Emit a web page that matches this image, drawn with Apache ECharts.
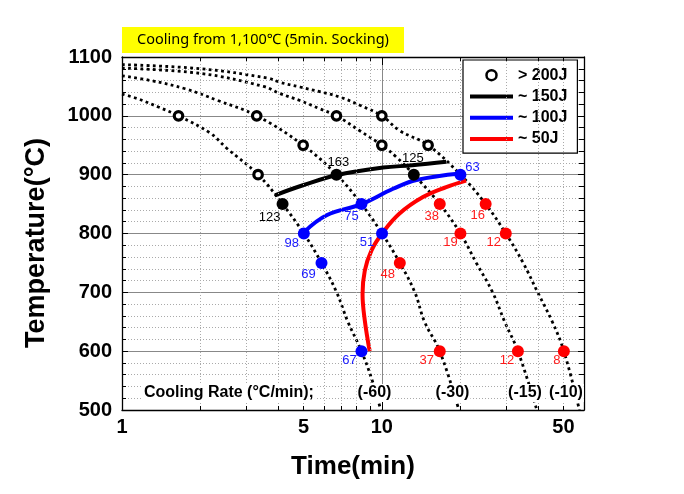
<!DOCTYPE html>
<html><head><meta charset="utf-8">
<script src="https://cdn.jsdelivr.net/npm/echarts@6/dist/echarts.min.js"></script>
<style>html,body{margin:0;padding:0;background:#fff}#c{width:684px;height:494px}</style>
</head><body><div id="c"></div>
<script>
// Cooling-rate curves (time min, temperature °C)
const curveM60 = [[1,1037],[1.15,1029],[1.38,1015],[1.65,1000],[2.18,971],[2.53,945],[3.34,900],[4.15,850],[5.01,800],[5.86,750],[6.7,700],[7.4,650],[8.35,600],[9.25,546],[9.9,500]];
const curveM30 = [[1,1068],[1.29,1060],[1.75,1046],[2.34,1026],[3.30,1000],[4.98,950],[6.69,900],[8.35,850],[10.02,800],[11.73,750],[13.4,700],[14.6,650],[16.71,600],[19.8,500]];
const curveM15 = [[1,1081],[2.01,1072],[3.5,1050],[4.05,1038],[4.84,1026],[5.77,1012],[6.69,1000],[8.2,975],[10,950],[11.37,930],[13.28,900],[16.71,850],[20.07,800],[23.1,750],[26.7,700],[29.7,650],[33.4,600],[39.5,500]];
const curveM10 = [[1,1087],[2.01,1080],[3.64,1064],[4.05,1057],[4.84,1049],[5.77,1041],[6.89,1032],[8.23,1018],[10,1000],[11.7,975],[15.07,950],[20.07,900],[25.1,850],[30,800],[35,750],[39.8,700],[45.3,650],[50.2,600],[57.6,500]];
const rateLabels = ['(-60)','(-30)','(-15)','(-10)'];

// Energy contour lines
const line150 = [[3.88,865],[4.97,882],[6.69,899],[10.1,912],[13.1,916],[17.7,922]];
const line100 = [[5.01,802],[6.13,831],[8.35,850],[11.05,876],[13.6,891],[20.07,902]];
const line50  = [[8.98,600],[8.6,652],[8.43,697],[8.6,737],[9.12,771],[10.1,802],[11.7,834],[14.4,862],[17.7,879],[21.1,890]];

// Measured points
const pts200 = [[1.65,1000],[3.30,1000],[3.34,900],[4.98,950],[6.69,1000],[10,1000],[10,950],[15.07,950]];
const pts150 = [[4.15,850],[6.69,900],[13.28,900]];
const lab150 = ['123','163','125'];
const pts100 = [[20.07,900],[8.35,850],[5.01,800],[10.02,800],[5.86,750],[8.35,600]];
const lab100 = ['63','75','98','51','69','67'];
const pts50  = [[16.71,850],[25.1,850],[20.07,800],[30,800],[11.73,750],[16.71,600],[33.4,600],[50.2,600]];
const lab50  = ['38','16','19','12','48','37','12','8'];

// Axis ticks
const yTicks = [500,600,700,800,900,1000,1100];
const xMinor = [2,3,4,5,6,7,8,9,20,30,40,50];
const xExtraLabels = {5:'5', 50:'50'};

// label offsets (style, not data)
const off150 = [[-13,13],[2,-12],[-1,-16]];
const off100 = [[12,-7],[-10,12],[-12,10],[-15,9],[-13,12],[-12,9]];
const off50  = [[-8,12],[-8,11],[-10,9],[-12,9],[-12,12],[-13,9],[-11,9],[-7,9]];

const FONT = 'Arial, "Liberation Sans", sans-serif';
const chart = echarts.init(document.getElementById('c'));

function dotsData(pts, labs, offs){
  return pts.map((p,i)=>({value:[p[0],p[1],labs[i]], label:{offset:offs[i]}}));
}
function curve(name, data){
  return {name, type:'line', data, smooth:0.4, symbol:'none', z:2, silent:true,
    lineStyle:{color:'#000', width:2.8, type:[2.8,3.4], cap:'butt'}};
}
const tickLen = 6.8;
const gridLines = xMinor.map(v => ({
  xAxis: v,
  label: xExtraLabels[v] ? {show:true, position:'start', formatter:xExtraLabels[v], distance:7,
    fontFamily:FONT, fontWeight:'bold', fontSize:20, color:'#000'} : {show:false}
}));
const tickLines = [];
xMinor.forEach(v => {
  tickLines.push([{coord:[v,yTicks[0]]},{coord:[v,yTicks[0]+tickLen]}]);
  tickLines.push([{coord:[v,yTicks[yTicks.length-1]]},{coord:[v,yTicks[yTicks.length-1]-tickLen]}]);
});

const c1 = curve('c60', curveM60);
c1.markLine = {silent:true, symbol:'none', animation:false,
  lineStyle:{color:'#aaa', type:[1,2], width:1},
  data: gridLines};
const c2 = curve('c30', curveM30);
c2.markLine = {silent:true, symbol:'none', animation:false,
  lineStyle:{color:'#000', type:'solid', width:1}, label:{show:false},
  data: tickLines};

// legend icon: thick bar centred in a 43x10 box
const barIcon = 'path://M0,3 H43 V7 H0 Z M0,0 L0.01,0 L0,0.01 Z M0,10 L0.01,10 L0,9.99 Z';

const labelBase = {show:true, position:'inside', formatter:p=>p.value[2], fontFamily:FONT, fontSize:13, textBorderWidth:0, opacity:1};

const option = {
  animation:false,
  grid:{left:122, right:100, top:57, bottom:84, containLabel:false},
  legend:{
    data:[
      {name:'> 200J', icon:'circle', itemStyle:{color:'#fff', borderColor:'#000', borderWidth:2.5, opacity:1}},
      {name:'~ 150J', icon:barIcon, itemStyle:{color:'#000', borderWidth:0}},
      {name:'~ 100J', icon:barIcon, itemStyle:{color:'#0000ff', borderWidth:0}},
      {name:'~ 50J', icon:barIcon, itemStyle:{color:'#ff0000', borderWidth:0}}
    ],
    orient:'vertical', left:463, top:60, padding:[7,10,6,7],
    itemWidth:43, itemHeight:10, itemGap:5, selectedMode:false,
    backgroundColor:'#fff', borderColor:'#000', borderWidth:1.2, borderRadius:0,
    textStyle:{fontFamily:FONT, fontWeight:'bold', fontSize:16, color:'#000', lineHeight:16.3}
  },
  xAxis:[{
    type:'log', logBase:10, min:1, max:60,
    name:'Time(min)', nameLocation:'middle', nameGap:44,
    nameTextStyle:{fontFamily:FONT, fontWeight:'bold', fontSize:26, color:'#000'},
    axisLine:{show:true, lineStyle:{color:'#000', width:1.3}},
    axisTick:{show:true, inside:true, length:8, lineStyle:{color:'#000'}},
    axisLabel:{fontFamily:FONT, fontWeight:'bold', fontSize:20, color:'#000', margin:7,
      showMaxLabel:false, formatter:v => (v===1||v===10) ? String(v) : ''},
    splitLine:{show:true, lineStyle:{color:'#888', width:1}},
    minorTick:{show:false}
  },{
    type:'log', logBase:10, min:1, max:60, position:'top',
    axisLine:{show:true, lineStyle:{color:'#000', width:1.3}},
    axisTick:{show:true, inside:true, length:8, lineStyle:{color:'#000'}},
    axisLabel:{show:false}, splitLine:{show:false}
  }],
  yAxis:[{
    type:'value', min:500, max:1100, interval:100,
    axisLine:{show:true, lineStyle:{color:'#000', width:1.3}},
    axisTick:{show:true, inside:true, length:6, lineStyle:{color:'#000'}},
    minorTick:{show:true, splitNumber:5, length:4, lineStyle:{color:'#000'}},
    axisLabel:{fontFamily:FONT, fontWeight:'bold', fontSize:20, color:'#000', margin:10,
      formatter:v => String(v)},
    splitLine:{show:true, lineStyle:{color:'#888', width:1}},
    minorSplitLine:{show:true, lineStyle:{color:'#aaa', type:[1,2], width:1}}
  },{
    type:'value', min:500, max:1100, interval:100, position:'right',
    axisLine:{show:true, lineStyle:{color:'#000', width:1.3}},
    axisTick:{show:true, inside:true, length:6, lineStyle:{color:'#000'}},
    minorTick:{show:true, splitNumber:5, length:5, lineStyle:{color:'#000'}},
    axisLabel:{show:false}, splitLine:{show:false}
  }],
  series:[
    c1, c2, curve('c15', curveM15), curve('c10', curveM10),
    {name:'~ 150J', type:'line', data:line150, smooth:0.4, symbol:'none', z:3,
      lineStyle:{color:'#000', width:4}, itemStyle:{color:'#000'}},
    {name:'~ 100J', type:'line', data:line100, smooth:0.4, symbol:'none', z:3,
      lineStyle:{color:'#0000ff', width:4}, itemStyle:{color:'#0000ff'}},
    {name:'~ 50J', type:'line', data:line50, smooth:0.4, symbol:'none', z:3,
      lineStyle:{color:'#ff0000', width:4}, itemStyle:{color:'#ff0000'}},
    {name:'> 200J', type:'scatter', data:pts200, symbol:'circle', symbolSize:8.5, z:5,
      itemStyle:{color:'#fff', borderColor:'#000', borderWidth:3.2, opacity:1}},
    {name:'p150', type:'scatter', data:dotsData(pts150, lab150, off150), symbolSize:12, z:5,
      itemStyle:{color:'#000', opacity:1},
      label:Object.assign({}, labelBase, {color:'#000'})},
    {name:'p100', type:'scatter', data:dotsData(pts100, lab100, off100), symbolSize:12, z:5,
      itemStyle:{color:'#0000ff', opacity:1},
      label:Object.assign({}, labelBase, {color:'#1a1aff'})},
    {name:'p50', type:'scatter', data:dotsData(pts50, lab50, off50), symbolSize:12, z:5,
      itemStyle:{color:'#ff0000', opacity:1},
      label:Object.assign({}, labelBase, {color:'#ff1a1a'})}
  ],
  graphic:[
    {type:'rect', z:100, shape:{x:122, y:27, width:282, height:26}, style:{fill:'#ffff00'}},
    {type:'text', z:101, x:263, y:40, style:{text:'Cooling from 1,100\u2103 (5min. Socking)', fill:'#000',
      font:'14.5px "Noto Sans", "Noto Sans CJK KR", sans-serif', textAlign:'center', textVerticalAlign:'middle'}},
    {type:'text', z:101, x:37, y:243, rotation:Math.PI/2, style:{text:'Temperature(\u00B0C)', fill:'#000',
      font:'bold 27px ' + FONT, textAlign:'center', textVerticalAlign:'middle'}},
    {type:'text', z:101, x:143, y:393, style:{text:'Cooling Rate (\u00B0C/min);', fill:'#000',
      font:'bold 16px ' + FONT, textAlign:'left', textVerticalAlign:'middle', backgroundColor:'#fff', padding:[1,1]}},
    {type:'text', z:101, x:374.5, y:393, style:{text:rateLabels[0], fill:'#000', font:'bold 16px ' + FONT, textAlign:'center', textVerticalAlign:'middle', backgroundColor:'#fff', padding:[1,1]}},
    {type:'text', z:101, x:452.5, y:393, style:{text:rateLabels[1], fill:'#000', font:'bold 16px ' + FONT, textAlign:'center', textVerticalAlign:'middle', backgroundColor:'#fff', padding:[1,1]}},
    {type:'text', z:101, x:525, y:393, style:{text:rateLabels[2], fill:'#000', font:'bold 16px ' + FONT, textAlign:'center', textVerticalAlign:'middle', backgroundColor:'#fff', padding:[1,1]}},
    {type:'text', z:101, x:566, y:393, style:{text:rateLabels[3], fill:'#000', font:'bold 16px ' + FONT, textAlign:'center', textVerticalAlign:'middle', backgroundColor:'#fff', padding:[1,1]}}
  ]
};
chart.setOption(option);
</script></body></html>
